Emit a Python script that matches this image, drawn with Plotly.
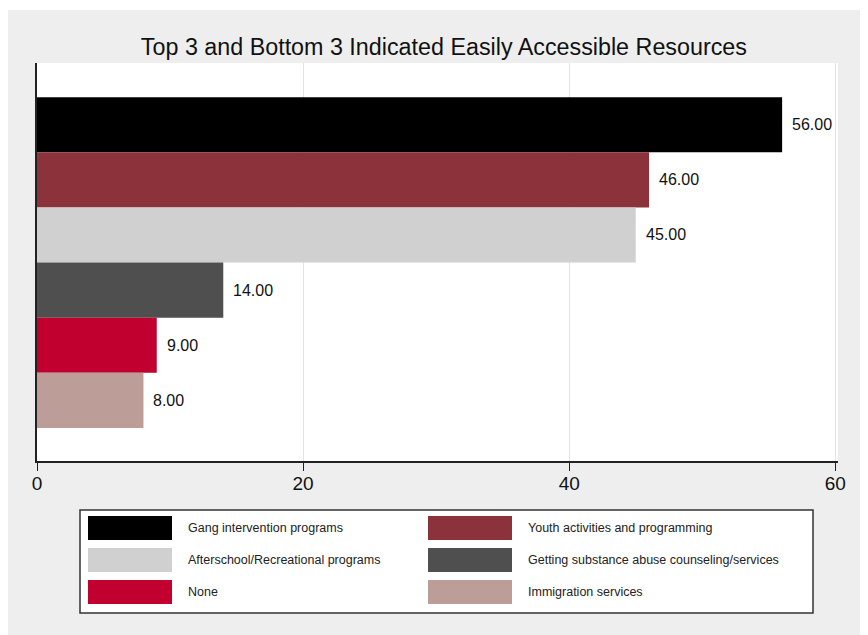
import plotly.graph_objects as go

title = "Top 3 and Bottom 3 Indicated Easily Accessible Resources"
categories = [
    "Gang intervention programs",
    "Youth activities and programming",
    "Afterschool/Recreational programs",
    "Getting substance abuse counseling/services",
    "None",
    "Immigration services",
]
values = [56, 46, 45, 14, 9, 8]
colors = ["#000000", "#8b323a", "#d0d0d0", "#4f4f4f", "#c10030", "#bd9d97"]
x_ticks = [0, 20, 40, 60]

# the page body has an 8px margin, so the figure is drawn 8px smaller and
# all positions below are given in screen pixels and shifted back
OFF = 8
W, H = 868 - OFF, 635 - OFF
L, R, T, B = 37 - OFF, 30, 63 - OFF, 174
pw, ph = W - L - R, H - T - B


def px_x(p):
    return (p - OFF - L) / pw


def px_y(p):
    return (H - B - (p - OFF)) / ph


fig = go.Figure()
for cat, val, col in zip(categories, values, colors):
    fig.add_trace(
        go.Bar(
            x=[val],
            y=[cat],
            orientation="h",
            width=1,
            marker=dict(color=col, line=dict(width=0)),
            name=cat,
            showlegend=False,
            hoverinfo="x+y",
        )
    )
    fig.add_annotation(
        x=val, y=cat, text=f"{val:.2f}", showarrow=False,
        xanchor="left", xshift=8, font=dict(size=16, color="#111111"),
    )

# background panel (grey, with a thin white border at top/left)
shapes = [
    dict(type="rect", xref="paper", yref="paper", layer="below",
         x0=px_x(7), x1=px_x(880), y0=px_y(650), y1=px_y(10),
         fillcolor="#eeeeee", line=dict(width=0)),
    dict(type="rect", xref="paper", yref="paper", layer="below",
         x0=0, x1=1, y0=0, y1=1, fillcolor="white", line=dict(width=0)),
]

# legend box drawn by hand to get the wide Stata-style swatches
box_l, box_r, box_t, box_b = 80, 813, 510, 613
shapes.append(dict(type="rect", xref="paper", yref="paper",
                   x0=px_x(box_l), x1=px_x(box_r), y0=px_y(box_b), y1=px_y(box_t),
                   fillcolor="white", line=dict(color="#333333", width=1.5)))
col_x = [88, 428]
row_y = [528, 560, 592]
sw_w, sw_h = 84, 24
for i, (cat, col) in enumerate(zip(categories, colors)):
    cx = col_x[i % 2]
    cy = row_y[i // 2]
    shapes.append(dict(type="rect", xref="paper", yref="paper",
                       x0=px_x(cx), x1=px_x(cx + sw_w),
                       y0=px_y(cy + sw_h / 2), y1=px_y(cy - sw_h / 2),
                       fillcolor=col, line=dict(width=0)))
    fig.add_annotation(xref="paper", yref="paper", x=px_x(cx + sw_w + 14), y=px_y(cy),
                       text=cat, showarrow=False, xanchor="left", yanchor="middle",
                       font=dict(size=12.5, color="#222222"))

fig.update_layout(
    width=W, height=H,
    margin=dict(l=L, r=R, t=T, b=B),
    paper_bgcolor="white",
    plot_bgcolor="white",
    barmode="overlay",
    font=dict(family="Liberation Sans, Arial, sans-serif", color="#111111"),
    title=dict(text=title, x=px_x(443), xanchor="center", y=1 - (47 - OFF) / H,
               yanchor="middle", font=dict(size=23.3, color="#111111")),
    shapes=shapes,
    showlegend=False,
)
fig.update_xaxes(
    range=[0, 60.2], tickvals=x_ticks, ticks="outside", ticklen=8, tickcolor="#222222",
    showline=True, linecolor="#222222", linewidth=1.5, ticklabelstandoff=-4,
    showgrid=True, gridcolor="#e4e4e4", gridwidth=1, zeroline=False,
    tickfont=dict(size=19, color="#111111"),
)
fig.update_yaxes(
    categoryorder="array", categoryarray=list(reversed(categories)),
    range=[-1.1, 6.12], showticklabels=False, ticks="",
    showline=True, linecolor="#222222", linewidth=1.5, showgrid=False, zeroline=False,
)

fig.write_html("out.html")
